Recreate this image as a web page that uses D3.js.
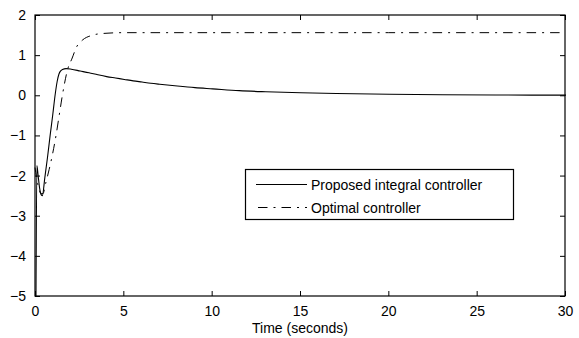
<!DOCTYPE html>
<html>
<head>
<meta charset="utf-8">
<script src="https://cdn.jsdelivr.net/npm/d3@7"></script>
<style>
  html, body { margin: 0; padding: 0; background: #fff; }
  svg { display: block; font-family: "Liberation Sans", Arial, Helvetica, sans-serif; }
</style>
</head>
<body>
<svg id="chart" width="579" height="338"></svg>
<script>
// ---- data ----
const integralT = [0, 0.05, 0.12, 0.2, 0.3, 0.36, 0.5, 0.65, 0.8, 0.95, 1.08, 1.2, 1.3, 1.4, 1.5, 1.7, 2.0, 2.5, 3, 3.5, 4, 4.5, 5, 5.5, 6, 6.5, 7, 8, 9, 10, 11.5, 13, 15, 17, 20, 23, 26, 30];
const integralV = [-5, -1.75, -2.0, -2.3, -2.48, -2.5, -2.05, -1.55, -1.0, -0.48, 0.0, 0.35, 0.53, 0.61, 0.645, 0.665, 0.65, 0.605, 0.56, 0.51, 0.465, 0.43, 0.395, 0.36, 0.33, 0.3, 0.275, 0.23, 0.19, 0.16, 0.115, 0.088, 0.062, 0.043, 0.024, 0.013, 0.007, 0.003];

const optimalT = [0, 0.15, 0.35, 0.45, 0.6, 0.8, 1.0, 1.19, 1.37, 1.55, 1.87, 2.08, 2.36, 2.7, 3.2, 3.85, 5, 10, 20, 30];
const optimalV = [-1.8, -2.2, -2.45, -2.45, -2.2, -1.85, -1.45, -1.0, -0.5, 0.0, 0.68, 0.9, 1.21, 1.38, 1.49, 1.54, 1.56, 1.56, 1.56, 1.56];

const xTicks = [0, 5, 10, 15, 20, 25, 30];
const yTicks = [-5, -4, -3, -2, -1, 0, 1, 2];
const seriesNames = ["Proposed integral controller", "Optimal controller"];
const xLabel = "Time (seconds)";

(function () {
const svg = d3.select("#chart");
const mLeft = 35, mRight = 565, mTop = 15, mBottom = 296;
const x = d3.scaleLinear().domain([0, 30]).range([mLeft, mRight]);
const y = d3.scaleLinear().domain([-5, 2]).range([mBottom, mTop]);

svg.append("rect").attr("width", 579).attr("height", 338).attr("fill", "#fff");

svg.append("defs").append("clipPath").attr("id", "clip")
  .append("rect").attr("x", mLeft - 1.5).attr("y", mTop - 1.5)
  .attr("width", mRight - mLeft + 3).attr("height", mBottom - mTop + 3);

const fmt = d => d < 0 ? "\u2212" + Math.abs(d) : String(d);
const tickLen = 5;

const xAxisB = d3.axisBottom(x).tickValues(xTicks).tickSizeInner(-tickLen).tickSizeOuter(0).tickPadding(10).tickFormat(fmt);
const gxb = svg.append("g").attr("transform", `translate(0,${mBottom})`).call(xAxisB);
const xAxisT = d3.axisTop(x).tickValues(xTicks).tickSizeInner(-tickLen).tickSizeOuter(0).tickFormat("");
const gxt = svg.append("g").attr("transform", `translate(0,${mTop})`).call(xAxisT);
const yAxisL = d3.axisLeft(y).tickValues(yTicks).tickSizeInner(-tickLen).tickSizeOuter(0).tickPadding(9).tickFormat(fmt);
const gyl = svg.append("g").attr("transform", `translate(${mLeft},0)`).call(yAxisL);
const yAxisR = d3.axisRight(y).tickValues(yTicks).tickSizeInner(-tickLen).tickSizeOuter(0).tickFormat("");
const gyr = svg.append("g").attr("transform", `translate(${mRight},0)`).call(yAxisR);

[gxb, gxt, gyl, gyr].forEach(g => {
  g.select(".domain").remove();
  g.selectAll(".tick line").attr("stroke", "#000").attr("stroke-width", 1);
  g.selectAll(".tick text").attr("fill", "#000").style("font-size", "14px")
    .style("font-family", "'Liberation Sans', Arial, sans-serif");
});

svg.append("rect").attr("x", mLeft).attr("y", mTop)
  .attr("width", mRight - mLeft).attr("height", mBottom - mTop)
  .attr("fill", "none").attr("stroke", "#000").attr("stroke-width", 1.2);

const line = d3.line().x(d => x(d[0])).y(d => y(d[1])).curve(d3.curveMonotoneX);
const integralData = integralT.map((t, i) => [t, integralV[i]]);
const optimalData = optimalT.map((t, i) => [t, optimalV[i]]);

const plot = svg.append("g").attr("clip-path", "url(#clip)");
plot.append("path").datum(optimalData).attr("d", line)
  .attr("fill", "none").attr("stroke", "#000").attr("stroke-width", 1)
  .attr("stroke-dasharray", "9.5,6,2,6");
plot.append("path").datum(integralData).attr("d", line)
  .attr("transform", "translate(1,0)")
  .attr("fill", "none").attr("stroke", "#000").attr("stroke-width", 1.1);

svg.append("text").attr("x", (mLeft + mRight) / 2).attr("y", 333)
  .attr("text-anchor", "middle").style("font-size", "14px").attr("fill", "#000")
  .text(xLabel);

const lg = svg.append("g");
lg.append("rect").attr("x", 245.5).attr("y", 169.5).attr("width", 268).attr("height", 50)
  .attr("fill", "#fff").attr("stroke", "#000").attr("stroke-width", 1.2);
const styles = [null, "9.5,6,2,6"];
seriesNames.forEach((name, i) => {
  const yy = 184.5 + i * 23;
  const l = lg.append("line").attr("x1", 256).attr("x2", 307).attr("y1", yy).attr("y2", yy)
    .attr("stroke", "#000").attr("stroke-width", 1);
  if (styles[i]) l.attr("stroke-dasharray", styles[i]).attr("stroke-dashoffset", -2);
  lg.append("text").attr("x", 311).attr("y", yy + 5).style("font-size", "14px")
    .attr("fill", "#000").text(name);
});
})();
</script>
</body>
</html>
